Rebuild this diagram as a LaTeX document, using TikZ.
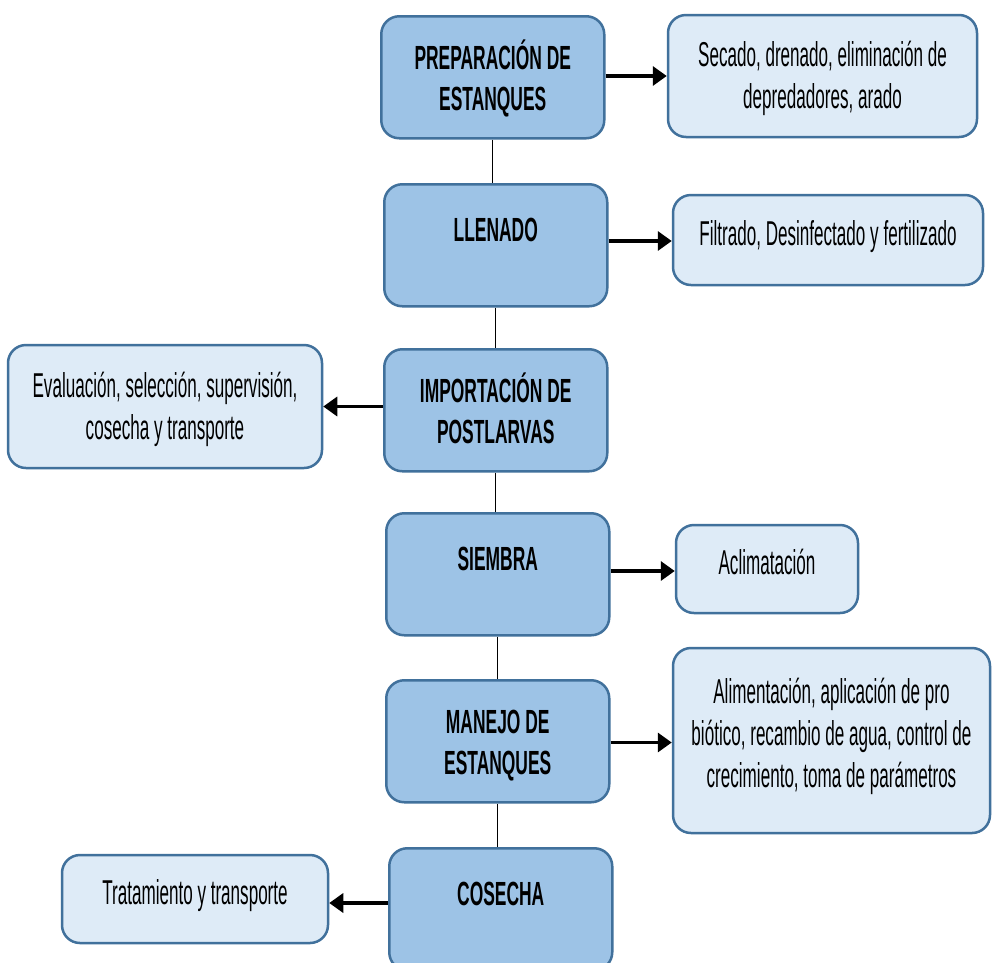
\documentclass[tikz,border=0pt]{standalone}
\usepackage{fontspec}
\newfontfamily\cfont[FakeStretch=0.495]{Liberation Sans}
\newfontfamily\bfont[FakeStretch=0.52]{Liberation Sans}
\usetikzlibrary{arrows.meta}
\definecolor{bordc}{HTML}{41719C}
\definecolor{mainc}{HTML}{9DC3E6}
\definecolor{sidec}{HTML}{DEEBF7}
\newcommand{\mtext}[2]{\parbox[c][122pt][t]{223pt}{\centering\rule{0pt}{#1pt}#2}}
\newcommand{\dpfix}{\rule[-15pt]{0pt}{0pt}}
\newcommand{\htfix}{\rule{0pt}{31pt}}
\tikzset{
  mainbox/.style={draw=bordc, fill=mainc, line width=2.5pt, rounded corners=18pt,
    inner sep=0pt, anchor=north west, font=\bfont\bfseries\fontsize{33.5}{41}\selectfont},
  sidebox/.style={draw=bordc, fill=sidec, line width=2.5pt, rounded corners=18pt,
    inner sep=0pt, align=center, font=\cfont\fontsize{34.5}{42}\selectfont},
  arr/.style={line width=3.4pt, -{Triangle[length=14pt,width=19pt]}},
  vline/.style={line width=1.3pt, draw=black}
}
\begin{document}
\begin{tikzpicture}[x=1pt, y=-1pt]
\useasboundingbox (0,0) rectangle (992,962);
\clip (0,0) rectangle (992,962);
\fill[white] (0,0) rectangle (992,962);
% main boxes
\node[mainbox] (m1) at (380,15) {\mtext{53}{PREPARACIÓN DE\\ESTANQUES}};
\node[mainbox] (m2) at (383,183) {\mtext{57}{LLENADO}};
\node[mainbox] (m3) at (383,348) {\mtext{53}{IMPORTACIÓN DE\\POSTLARVAS}};
\node[mainbox] (m4) at (385,512) {\mtext{57}{SIEMBRA}};
\node[mainbox] (m5) at (385,679) {\mtext{53}{MANEJO DE\\ESTANQUES}};
\node[mainbox] (m6) at (388,847) {\mtext{57}{COSECHA}};
% side boxes
\node[sidebox, minimum width=309pt, minimum height=122pt] (sa) at (822.5,76) {\htfix Secado, drenado, eliminación de\\depredadores, arado};
\node[sidebox, minimum width=310pt, minimum height=90pt] (sb) at (828,240) {Filtrado, Desinfectado y fertilizado\dpfix};
\node[sidebox, minimum width=314pt, minimum height=123pt] (sc) at (165,406.5) {\htfix Evaluación, selección, supervisión,\\cosecha y transporte};
\node[sidebox, minimum width=182pt, minimum height=88pt] (sd) at (767,569) {Aclimatación\dpfix};
\node[sidebox, minimum width=317pt, minimum height=185pt] (se) at (831.5,740.5) {Alimentación, aplicación de pro\\biótico, recambio de agua, control de\\crecimiento, toma de parámetros\dpfix};
\node[sidebox, minimum width=266pt, minimum height=88pt] (sf) at (195,899) {Tratamiento y transporte\dpfix};
% vertical connectors
\draw[vline] (m1.south) -- (m1.south |- m2.north);
\draw[vline] (m2.south) -- (m2.south |- m3.north);
\draw[vline] (m3.south) -- (m3.south |- m4.north);
\draw[vline] (m4.south) -- (m4.south |- m5.north);
\draw[vline] (m5.south) -- (m5.south |- m6.north);
% arrows
\draw[arr] (m1.east |- sa.west) -- (sa.west);
\draw[arr] ([yshift=-1pt]m2.east |- sb.west) -- ([yshift=-1pt]sb.west);
\draw[arr] (m3.west |- sc.east) -- (sc.east);
\draw[arr] ([yshift=-2pt]m4.east |- sd.west) -- ([yshift=-2pt]sd.west);
\draw[arr] ([yshift=-2pt]m5.east |- se.west) -- ([yshift=-2pt]se.west);
\draw[arr] ([yshift=-4pt]m6.west |- sf.east) -- ([yshift=-4pt]sf.east);
\end{tikzpicture}
\end{document}
